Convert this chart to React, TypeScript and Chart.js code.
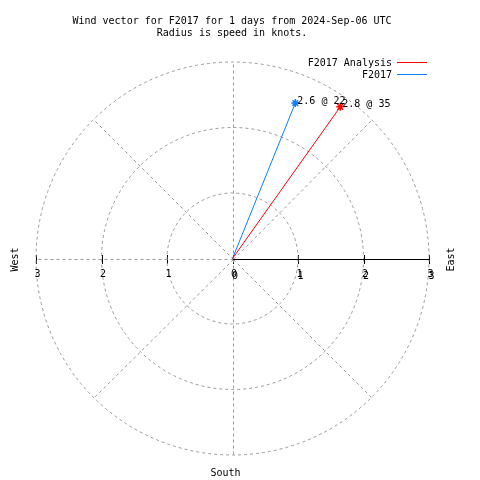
import React, { useEffect, useRef } from "react";
import { Chart, registerables } from "chart.js";

Chart.register(...registerables);

// ---- data ----
const seriesNames = ["F2017 Analysis", "F2017"];
const speedKnots = [2.84, 2.56];
const directionDeg = [35.4, 22.0];
const ringValues = [1, 2, 3];
const axisTickValues = [-3, -2, -1, 0, 1, 2, 3];
const axisTickLabels = ["3", "2", "1", "0", "1", "2", "3"];
const spokeAnglesDeg = [0, 45, 90, 135, 180, 225, 270, 315];
const compassLabels = { west: "West", east: "East", south: "South" };
const titleLines = [
  "Wind vector for F2017 for 1 days from 2024-Sep-06 UTC",
  "Radius is speed in knots.",
];

const seriesColors = ["#ff0000", "#0a80ff"];
const FONT = "10px 'DejaVu Sans Mono', monospace";
const GRID = "#999999";

const toXY = (s: number, d: number) => {
  const r = (d * Math.PI) / 180;
  return { x: s * Math.sin(r), y: s * Math.cos(r) };
};

const polarPlugin = {
  id: "polarDecor",
  beforeDatasetsDraw(chart: any) {
    const ctx = chart.ctx;
    const xs = chart.scales.x;
    const ys = chart.scales.y;
    const cx = xs.getPixelForValue(0);
    const cy = ys.getPixelForValue(0);
    const unit = xs.getPixelForValue(1) - cx;
    ctx.save();
    ctx.lineWidth = 1;
    // black tick marks on horizontal axis
    ctx.strokeStyle = "#000";
    ctx.setLineDash([]);
    axisTickValues.forEach((v) => {
      const px = Math.round(xs.getPixelForValue(v)) + 0.5;
      ctx.beginPath();
      ctx.moveTo(px, Math.round(cy) - 4);
      ctx.lineTo(px, Math.round(cy) + 5);
      ctx.stroke();
    });
    // grid circles
    ctx.strokeStyle = GRID;
    ctx.setLineDash([3, 3]);
    ringValues.forEach((r) => {
      ctx.beginPath();
      ctx.arc(cx, cy, r * unit, 0, Math.PI * 2);
      ctx.stroke();
    });
    // spokes
    const rmax = ringValues[ringValues.length - 1];
    spokeAnglesDeg.forEach((a) => {
      if (a === 90) return;
      const p = toXY(rmax, a);
      ctx.beginPath();
      ctx.moveTo(Math.round(cx) + 0.5, Math.round(cy) + 0.5);
      ctx.lineTo(Math.round(xs.getPixelForValue(p.x)) + 0.5, Math.round(ys.getPixelForValue(p.y)) + 0.5);
      ctx.stroke();
    });
    // solid east axis
    ctx.setLineDash([]);
    ctx.strokeStyle = "#000";
    ctx.beginPath();
    ctx.moveTo(Math.round(cx), Math.round(cy) + 0.5);
    ctx.lineTo(Math.round(xs.getPixelForValue(rmax)) + 1, Math.round(cy) + 0.5);
    ctx.stroke();
    ctx.restore();
  },
  afterDatasetsDraw(chart: any) {
    const ctx = chart.ctx;
    const xs = chart.scales.x;
    const ys = chart.scales.y;
    const cx = xs.getPixelForValue(0);
    const cy = ys.getPixelForValue(0);
    ctx.save();
    ctx.font = FONT;
    ctx.fillStyle = "#000";
    // tick labels
    ctx.textAlign = "center";
    ctx.textBaseline = "middle";
    axisTickValues.forEach((v, i) => {
      const px = xs.getPixelForValue(v) + 1.5;
      ctx.fillText(axisTickLabels[i], px, cy + 16);
      if (v >= 0) ctx.fillText(axisTickLabels[i], px + 1, cy + 18);
    });
    // point labels
    ctx.textAlign = "left";
    speedKnots.forEach((s, i) => {
      const p = toXY(s, directionDeg[i]);
      const px = xs.getPixelForValue(p.x);
      const py = ys.getPixelForValue(p.y);
      ctx.fillText(`${s.toFixed(1)} @ ${Math.round(directionDeg[i])}`, px + 2, py - 2);
    });
    // compass labels
    ctx.textAlign = "center";
    ctx.fillText(compassLabels.south, cx - 7, 473);
    ctx.save();
    ctx.translate(15, cy + 1);
    ctx.rotate(-Math.PI / 2);
    ctx.fillText(compassLabels.west, 0, 0);
    ctx.restore();
    ctx.save();
    ctx.translate(451, cy + 1);
    ctx.rotate(-Math.PI / 2);
    ctx.fillText(compassLabels.east, 0, 0);
    ctx.restore();
    // title
    ctx.textBaseline = "alphabetic";
    ctx.fillText(titleLines[0], 232, 24);
    ctx.fillText(titleLines[1], 232, 36);
    // legend
    ctx.textAlign = "right";
    ctx.textBaseline = "middle";
    seriesNames.forEach((n, i) => {
      const y = 63 + i * 12;
      ctx.fillStyle = "#000";
      ctx.fillText(n, 392, y);
      ctx.strokeStyle = seriesColors[i];
      ctx.lineWidth = 1;
      ctx.beginPath();
      ctx.moveTo(397, Math.round(y) - 0.5);
      ctx.lineTo(427, Math.round(y) - 0.5);
      ctx.stroke();
    });
    ctx.restore();
  },
};

export default function App() {
  const ref = useRef<HTMLCanvasElement>(null);
  useEffect(() => {
    if (!ref.current) return;
    const datasets = seriesNames.map((name, i) => {
      const end = toXY(speedKnots[i], directionDeg[i]);
      return {
        label: name,
        data: [{ x: 0, y: 0 }, end],
        showLine: true,
        borderColor: seriesColors[i],
        backgroundColor: seriesColors[i],
        borderWidth: 1,
        pointStyle: "star" as const,
        pointRadius: [0, 4],
        pointBorderWidth: 1.5,
        pointBorderColor: seriesColors[i],
      };
    });
    const chart = new Chart(ref.current, {
      type: "scatter",
      data: { datasets },
      options: {
        animation: false,
        responsive: false,
        maintainAspectRatio: false,
        layout: { padding: { left: 36, right: 51, top: 62, bottom: 25 } },
        scales: {
          x: { type: "linear", min: -3, max: 3, display: false },
          y: { type: "linear", min: -3, max: 3, display: false },
        },
        plugins: {
          legend: { display: false },
          title: { display: false },
          tooltip: { enabled: false },
        },
      },
      plugins: [polarPlugin],
    });
    return () => chart.destroy();
  }, []);
  return (
    <div style={{ position: "fixed", left: 0, top: 0, width: 480, height: 480, background: "#fff" }}>
      <canvas ref={ref} width={480} height={480} />
    </div>
  );
}
